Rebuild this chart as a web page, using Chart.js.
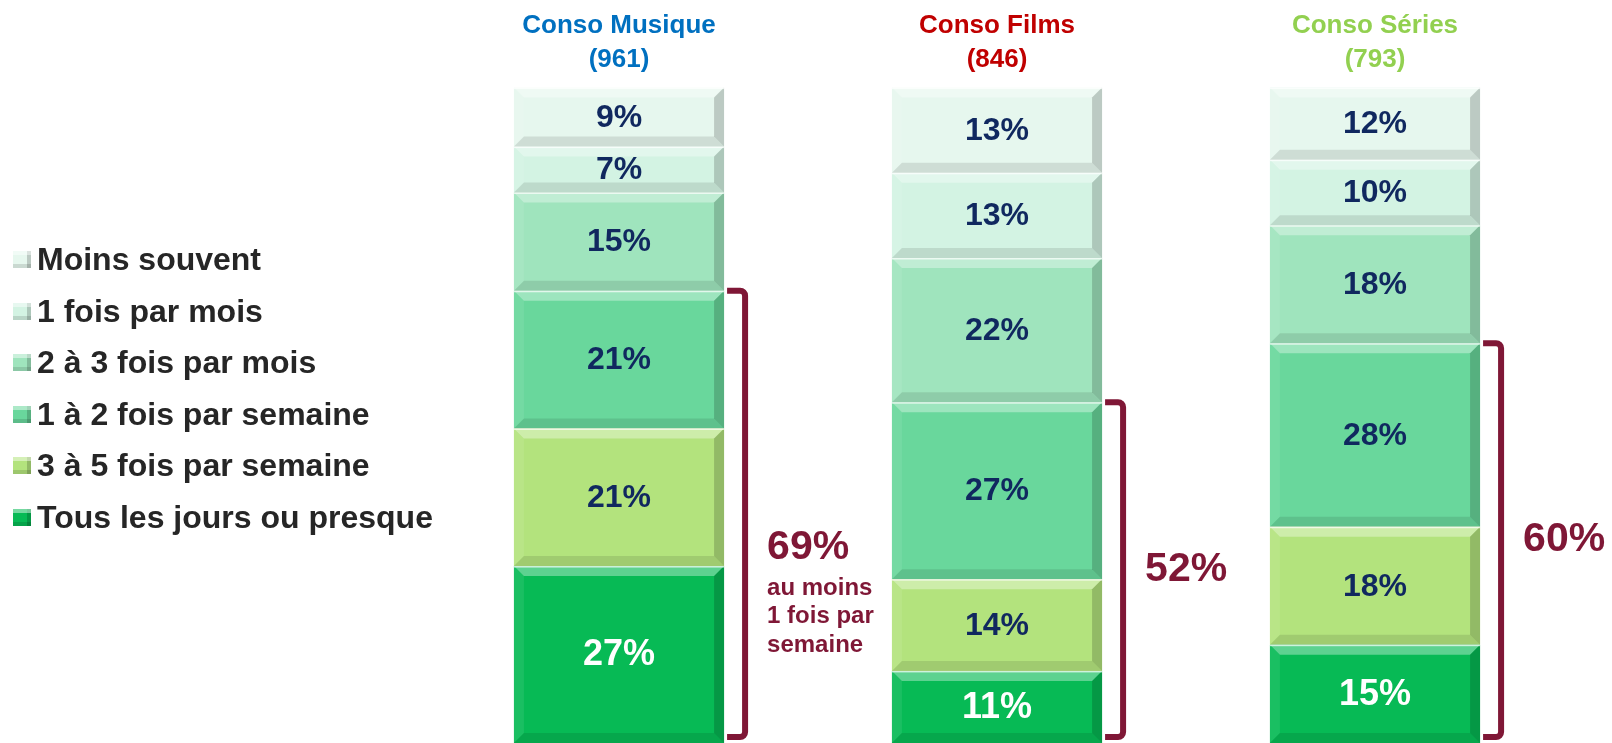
<!DOCTYPE html>
<html lang="fr">
<head>
<meta charset="utf-8">
<title>Fréquence de consommation</title>
<script src="https://cdn.jsdelivr.net/npm/chart.js@4.4.1/dist/chart.umd.min.js"></script>
<style>
  html, body { margin: 0; padding: 0; background: #fff; }
  #wrap { position: relative; width: 1612px; height: 743px; }
  #legende {
    position: absolute; left: 13px; top: 234px;
    font: bold 32px "Liberation Sans", Arial, sans-serif; color: #262626;
  }
  #legende .item { height: 51.5px; display: flex; align-items: center; white-space: nowrap; }
  #legende .box {
    width: 18px; height: 17px; margin-right: 6px;
    box-shadow: inset 0 4px 0 rgba(255,255,255,.45), inset -4px 0 0 rgba(0,0,0,.18), inset 0 -4px 0 rgba(0,0,0,.12);
  }
</style>
</head>
<body>
<div id="wrap">
  <canvas id="graf" width="1612" height="743"></canvas>
  <div id="legende"></div>
</div>
<script>
(function () {

  // categories et effectifs
  const categories = ["Conso Musique", "Conso Films", "Conso Séries"];
  const effectifs = ["(961)", "(846)", "(793)"];
  const couleursTitres = ["#0070C0", "#C00000", "#92D050"];

  // séries, du bas vers le haut de la pile
  const series = [
    "Tous les jours ou presque",
    "3 à 5 fois par semaine",
    "1 à 2 fois par semaine",
    "2 à 3 fois par mois",
    "1 fois par mois",
    "Moins souvent"
  ];
  const tousLesJours   = [27, 11, 15];
  const troisACinqSem  = [21, 14, 18];
  const unADeuxSem     = [21, 27, 28];
  const deuxATroisMois = [15, 22, 18];
  const unFoisMois     = [7, 13, 10];
  const moinsSouvent   = [9, 13, 12];

  const couleurs = ["#07BA55", "#B3E37D", "#69D79C", "#9FE4BD", "#D3F3E3", "#E6F7EE"];

  // total "au moins 1 fois par semaine"
  const totauxSemaine = ["69%", "52%", "60%"];
  const notesTotaux = [["au moins", "1 fois par", "semaine"], [], []];

  const police = '"Liberation Sans", Arial, sans-serif';
  const bordeaux = "#7F1736";
  const marine = "#10285F";

  const valeurs = [tousLesJours, troisACinqSem, unADeuxSem, deuxATroisMois, unFoisMois, moinsSouvent];

  // légende html
  const leg = document.getElementById("legende");
  for (let i = series.length - 1; i >= 0; i--) {
    const d = document.createElement("div");
    d.className = "item";
    d.innerHTML = `<span class="box" style="background:${couleurs[i]}"></span>${series[i]}`;
    leg.appendChild(d);
  }

  // relief des barres + étiquettes
  const relief = {
    id: "relief",
    afterDatasetsDraw(chart) {
      const ctx = chart.ctx;
      const area = chart.chartArea;
      ctx.save();
      chart.data.datasets.forEach((ds, di) => {
        const meta = chart.getDatasetMeta(di);
        meta.data.forEach((el, i) => {
          const p = el.getProps(["x", "y", "base", "width"], true);
          const l = p.x - p.width / 2, r = p.x + p.width / 2;
          const t = Math.max(Math.min(p.y, p.base), area.top);
          const b = Math.max(p.y, p.base);
          const d = Math.min(10, (b - t) / 3);

          ctx.fillStyle = "rgba(255,255,255,0.35)";
          ctx.beginPath();
          ctx.moveTo(l, t); ctx.lineTo(r, t); ctx.lineTo(r - d, t + d); ctx.lineTo(l + d, t + d);
          ctx.closePath(); ctx.fill();

          ctx.fillStyle = "rgba(255,255,255,0.08)";
          ctx.beginPath();
          ctx.moveTo(l, t); ctx.lineTo(l + d, t + d); ctx.lineTo(l + d, b - d); ctx.lineTo(l, b);
          ctx.closePath(); ctx.fill();

          ctx.fillStyle = "rgba(0,0,0,0.18)";
          ctx.beginPath();
          ctx.moveTo(r, t); ctx.lineTo(r, b); ctx.lineTo(r - d, b - d); ctx.lineTo(r - d, t + d);
          ctx.closePath(); ctx.fill();

          ctx.fillStyle = "rgba(0,0,0,0.10)";
          ctx.beginPath();
          ctx.moveTo(l, b); ctx.lineTo(r, b); ctx.lineTo(r - d, b - d); ctx.lineTo(l + d, b - d);
          ctx.closePath(); ctx.fill();

          ctx.fillStyle = "rgba(255,255,255,0.7)";
          ctx.fillRect(l, t, p.width, 1.5);

          // valeur
          const blanc = di === 0;
          ctx.fillStyle = blanc ? "#FFFFFF" : marine;
          ctx.font = `bold ${blanc ? 36 : 32}px ${police}`;
          ctx.textAlign = "center";
          ctx.textBaseline = "middle";
          ctx.fillText(ds.data[i] + "%", p.x, (t + b) / 2 + 1);
        });
      });

      // accolades "au moins 1 fois par semaine"
      const y = chart.scales.y;
      const bas = chart.getDatasetMeta(0).data;
      bas.forEach((el, i) => {
        const cumul = valeurs[0][i] + valeurs[1][i] + valeurs[2][i];
        const p = el.getProps(["x", "width"], true);
        const droite = p.x + p.width / 2;
        const x0 = droite + 3, x1 = droite + 21;
        const haut = y.getPixelForValue(cumul);
        const fin = y.getPixelForValue(0) - 6;
        ctx.strokeStyle = bordeaux;
        ctx.lineWidth = 6;
        ctx.lineJoin = "round";
        ctx.beginPath();
        ctx.moveTo(x0, haut);
        ctx.arcTo(x1, haut, x1, fin, 5);
        ctx.arcTo(x1, fin, x0, fin, 5);
        ctx.lineTo(x0, fin);
        ctx.stroke();

        const milieu = (haut + fin) / 2;
        const notes = notesTotaux[i];
        const ty = notes.length ? milieu + 34 : milieu;
        const tx = x1 + 22;
        ctx.fillStyle = bordeaux;
        ctx.textAlign = "left";
        ctx.textBaseline = "middle";
        ctx.font = `bold 41px ${police}`;
        ctx.fillText(totauxSemaine[i], tx, ty);
        ctx.font = `bold 24px ${police}`;
        notes.forEach((n, k) => ctx.fillText(n, tx, ty + 40 + k * 28.5));
      });
      ctx.restore();
    }
  };

  new Chart(document.getElementById("graf"), {
    type: "bar",
    data: {
      labels: categories.map((c, i) => [c, effectifs[i]]),
      datasets: series.map((s, i) => ({
        label: s,
        data: valeurs[i],
        backgroundColor: couleurs[i],
        borderWidth: 0,
        barPercentage: 0.556,
        categoryPercentage: 1
      }))
    },
    options: {
      responsive: false,
      animation: false,
      layout: { padding: { left: 430, right: 48, top: -2, bottom: 0 } },
      plugins: { legend: { display: false }, tooltip: { enabled: false } },
      scales: {
        x: {
          stacked: true,
          position: "top",
          grid: { display: false, drawTicks: false },
          border: { display: false },
          ticks: {
            padding: 11,
            font: { family: police, size: 26, weight: "bold", lineHeight: 1.3 },
            color: c => couleursTitres[c.index]
          }
        },
        y: { stacked: true, display: false, min: 0, max: 100 }
      }
    },
    plugins: [relief]
  });

})();
</script>
</body>
</html>
